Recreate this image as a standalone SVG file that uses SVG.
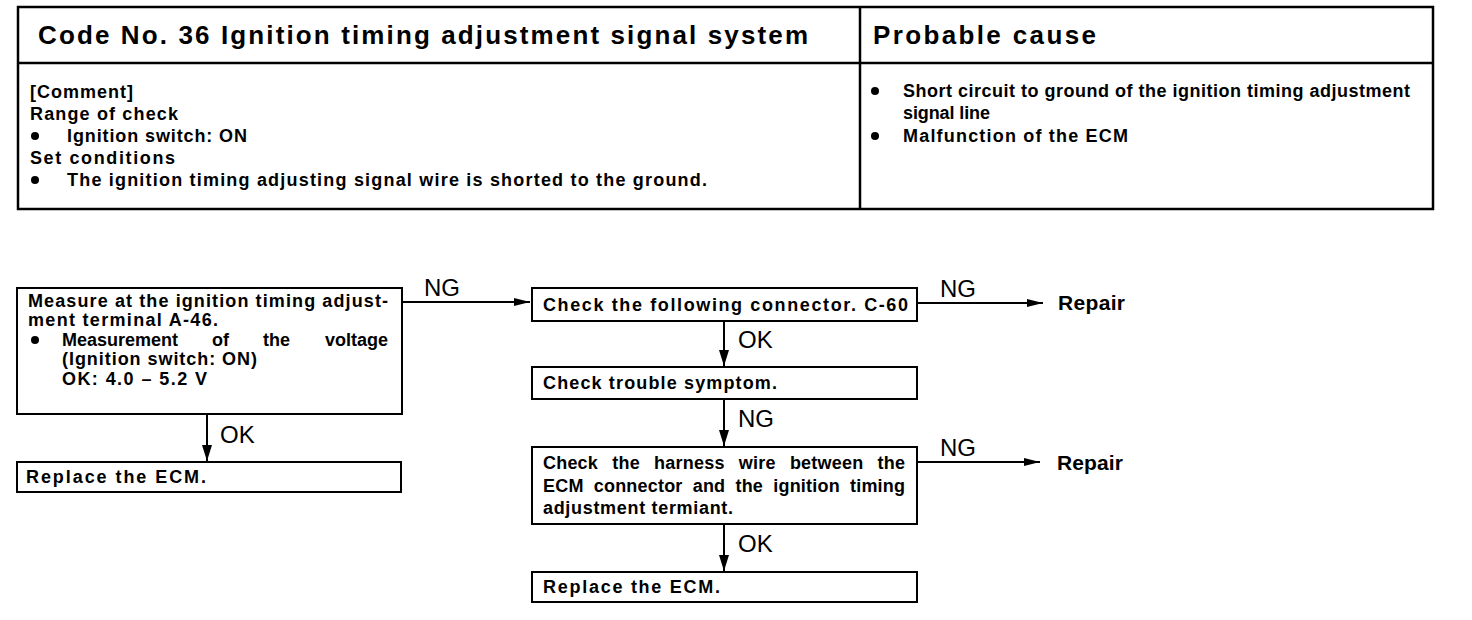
<svg xmlns="http://www.w3.org/2000/svg" width="1472" height="620" viewBox="0 0 1472 620">
<style>
.t{font-family:"Liberation Sans",Arial,Helvetica,sans-serif;font-weight:bold;font-size:18px;fill:#000}
.h{font-size:26px}
.l{font-size:24px;font-weight:normal}
.rp{font-size:21px}
.box{fill:#fff;stroke:#000;stroke-width:2}
.ln{stroke:#000;stroke-width:2;fill:none}
.tb{fill:none;stroke:#000;stroke-width:2.5}
</style>
<defs>
<marker id="ad" markerWidth="16" markerHeight="10" refX="16" refY="5" orient="auto" markerUnits="userSpaceOnUse" viewBox="0 0 16 10">
<path d="M0,0 L16,5 L0,10 Z" fill="#000"/>
</marker>
<marker id="ar" markerWidth="16" markerHeight="8" refX="16" refY="4" orient="auto" markerUnits="userSpaceOnUse" viewBox="0 0 16 8">
<path d="M0,0 L16,4 L0,8 Z" fill="#000"/>
</marker>
</defs>
<rect width="1472" height="620" fill="#fff"/>
<g id="table">
<rect class="tb" x="18" y="7" width="1415" height="202"/>
<line class="tb" x1="18" y1="63" x2="1433" y2="63"/>
<line class="tb" x1="860" y1="7" x2="860" y2="209"/>
<text class="t h" x="38" y="44" textLength="770" lengthAdjust="spacing">Code No. 36 Ignition timing adjustment signal system</text>
<text class="t h" x="873" y="44" textLength="223" lengthAdjust="spacing">Probable cause</text>
<text class="t" x="30" y="98" textLength="103" lengthAdjust="spacing">[Comment]</text>
<text class="t" x="30" y="120" textLength="148" lengthAdjust="spacing">Range of check</text>
<circle cx="35" cy="136" r="4"/>
<text class="t" x="67" y="142" textLength="180" lengthAdjust="spacing">Ignition switch: ON</text>
<text class="t" x="30" y="164" textLength="145" lengthAdjust="spacing">Set conditions</text>
<circle cx="35" cy="180" r="4"/>
<text class="t" x="67" y="186" textLength="640" lengthAdjust="spacing">The ignition timing adjusting signal wire is shorted to the ground.</text>
<circle cx="875" cy="91" r="4"/>
<text class="t" x="903" y="97" textLength="507" lengthAdjust="spacing">Short circuit to ground of the ignition timing adjustment</text>
<text class="t" x="903" y="119" textLength="87" lengthAdjust="spacing">signal line</text>
<circle cx="875" cy="136" r="4"/>
<text class="t" x="903" y="142" textLength="225" lengthAdjust="spacing">Malfunction of the ECM</text>
</g>
<g id="n1">
<rect class="box" x="17" y="288" width="385" height="126"/>
<text class="t" x="28" y="307" textLength="360" lengthAdjust="spacing">Measure at the ignition timing adjust-</text>
<text class="t" x="28" y="326" textLength="190" lengthAdjust="spacing">ment terminal A-46.</text>
<circle cx="35" cy="340" r="4"/>
<text class="t" y="346"><tspan x="62">Measurement</tspan><tspan x="212">of</tspan><tspan x="263">the</tspan><tspan x="388" text-anchor="end">voltage</tspan></text>
<text class="t" x="62" y="365" textLength="195" lengthAdjust="spacing">(Ignition switch: ON)</text>
<text class="t" x="62" y="385" textLength="145" lengthAdjust="spacing">OK: 4.0 – 5.2 V</text>
</g>
<g id="n2">
<rect class="box" x="17" y="462" width="384" height="30"/>
<text class="t" x="26" y="483" textLength="180" lengthAdjust="spacing">Replace the ECM.</text>
</g>
<g id="n3">
<rect class="box" x="532" y="288" width="385" height="33"/>
<text class="t" x="543" y="311" textLength="365" lengthAdjust="spacing">Check the following connector. C-60</text>
</g>
<g id="n4">
<rect class="box" x="532" y="367" width="385" height="32"/>
<text class="t" x="543" y="389" textLength="234" lengthAdjust="spacing">Check trouble symptom.</text>
</g>
<g id="n5">
<rect class="box" x="532" y="447" width="385" height="77"/>
<text class="t" x="543" y="469" style="word-spacing:9px" textLength="362" lengthAdjust="spacing">Check the harness wire between the</text>
<text class="t" x="543" y="492" style="word-spacing:5px" textLength="362" lengthAdjust="spacing">ECM connector and the ignition timing</text>
<text class="t" x="543" y="514" textLength="190" lengthAdjust="spacing">adjustment termiant.</text>
</g>
<g id="n6">
<rect class="box" x="532" y="572" width="385" height="30"/>
<text class="t" x="543" y="593" textLength="177" lengthAdjust="spacing">Replace the ECM.</text>
</g>
<g id="r1"><text class="t rp" x="1058" y="310" textLength="67" lengthAdjust="spacing">Repair</text></g>
<g id="r2"><text class="t rp" x="1057" y="470" textLength="66" lengthAdjust="spacing">Repair</text></g>
<g id="connectors">
<line class="ln" x1="402" y1="302" x2="530" y2="302" marker-end="url(#ar)"/>
<text class="t l" x="424" y="296">NG</text>
<line class="ln" x1="207" y1="414" x2="207" y2="461" marker-end="url(#ad)"/>
<text class="t l" x="220" y="443">OK</text>
<line class="ln" x1="917" y1="303" x2="1043" y2="303" marker-end="url(#ar)"/>
<text class="t l" x="940" y="297">NG</text>
<line class="ln" x1="724" y1="321" x2="724" y2="366" marker-end="url(#ad)"/>
<text class="t l" x="738" y="348">OK</text>
<line class="ln" x1="724" y1="399" x2="724" y2="446" marker-end="url(#ad)"/>
<text class="t l" x="738" y="427">NG</text>
<line class="ln" x1="917" y1="462" x2="1040" y2="462" marker-end="url(#ar)"/>
<text class="t l" x="940" y="456">NG</text>
<line class="ln" x1="724" y1="524" x2="724" y2="571" marker-end="url(#ad)"/>
<text class="t l" x="738" y="552">OK</text>
</g>
</svg>
